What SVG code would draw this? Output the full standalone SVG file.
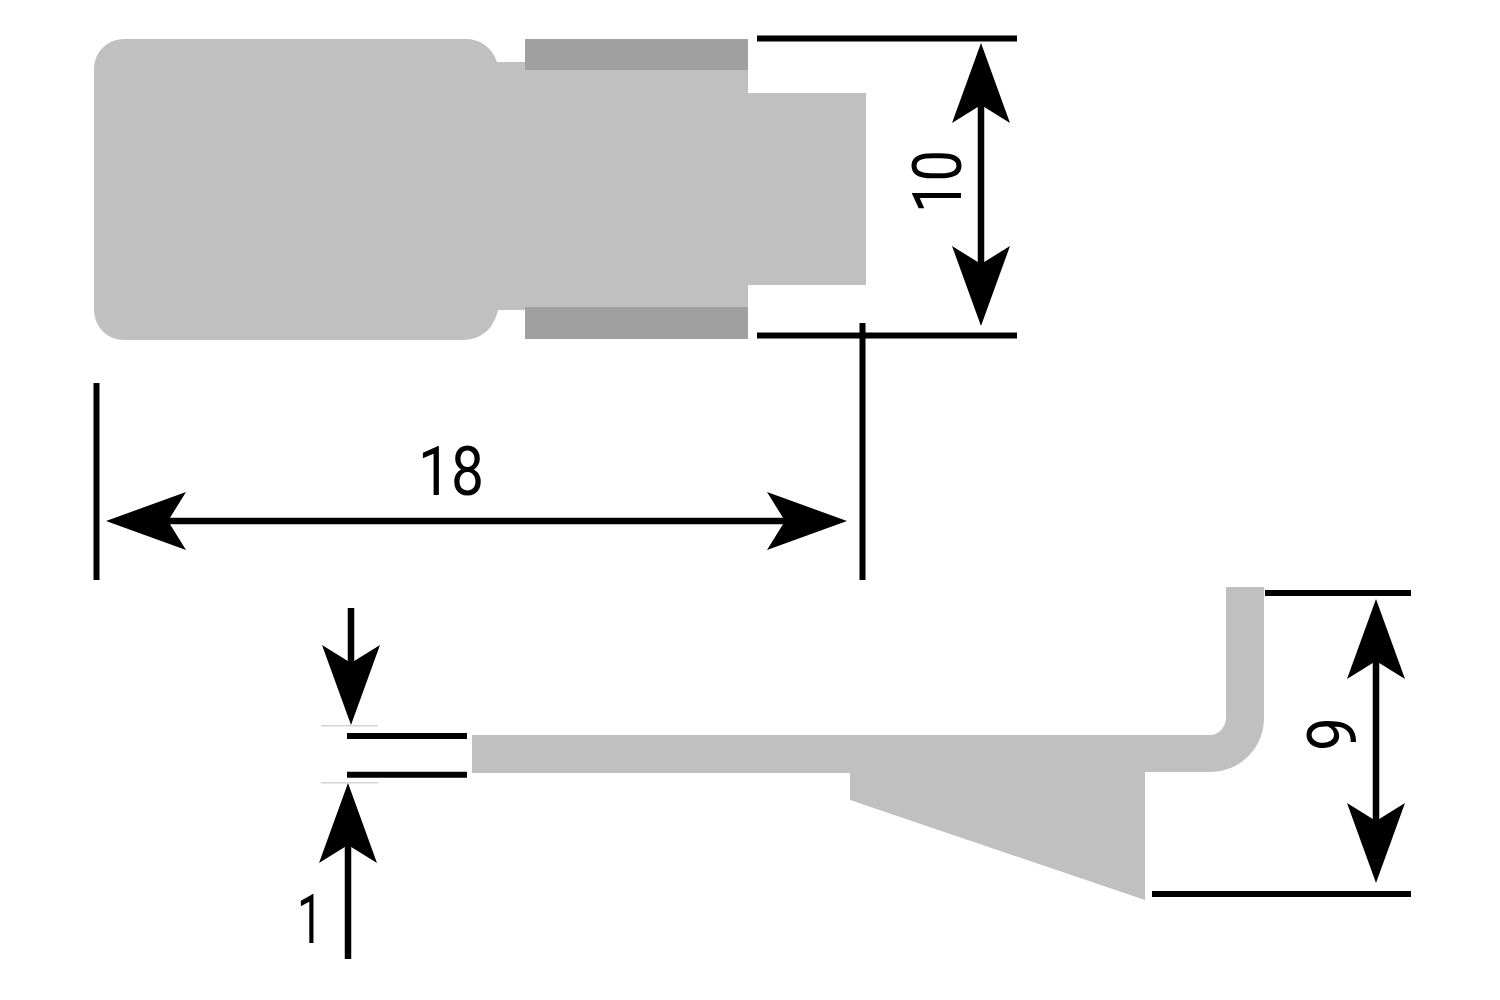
<svg xmlns="http://www.w3.org/2000/svg" width="1500" height="1000" viewBox="0 0 1500 1000">
<style>
.part{fill:#c0c0c0}
.dark{fill:#a0a0a0}
.dim{stroke:#000;stroke-width:6;fill:none}
.arr{stroke:#000;stroke-width:6.5;fill:none;marker-end:url(#head)}
.arr2{stroke:#000;stroke-width:6.5;fill:none;marker-start:url(#head);marker-end:url(#head)}
.thin{stroke:#d4d4d4;stroke-width:1.5;fill:none}
.lbl{font-family:"Roboto","Liberation Sans",sans-serif;font-size:69px;font-weight:400;fill:#000}
</style>
<defs>
<marker id="head" markerUnits="userSpaceOnUse" markerWidth="100" markerHeight="70" viewBox="-20 -35 100 70" refX="0" refY="0" orient="auto-start-reverse" overflow="visible">
<path d="M62,0 L-18,-29 L0,0 L-18,29Z" fill="#000"/>
</marker>
</defs>
<rect width="1500" height="1000" fill="#fff"/>
<g id="top-part">
<path class="part" d="M125,39 H465 C480,39 492,47 497,62 H525 V310 H498 C494,328 482,340 462,340 H125 C107,340 94,327 94,309 V70 C94,52 107,39 125,39Z"/>
<path class="part" d="M520,62 H748 V93 H866 V285 H748 V310 H520Z"/>
<rect class="dark" x="525" y="39" width="223" height="31"/>
<rect class="dark" x="525" y="307" width="223" height="32"/>
</g>
<g id="side-part">
<path class="part" d="M472,735 H1210 C1219,735 1226,727 1226,717 V587 H1264 V718 C1264,748 1240,772 1210,772 H1145 V900 L850,800 V773 H472Z"/>
</g>
<g id="connectors">
<line class="dim" x1="757" y1="38.5" x2="1017" y2="38.5"/>
<line class="dim" x1="757" y1="335.5" x2="1017" y2="335.5"/>
<line class="arr2" x1="981" y1="105" x2="981" y2="264"/>
<line class="dim" x1="96.5" y1="383" x2="96.5" y2="580"/>
<line class="dim" x1="862.5" y1="323" x2="862.5" y2="580"/>
<line class="arr2" x1="168" y1="521" x2="785" y2="521"/>
<line class="arr" x1="351" y1="608" x2="351" y2="663"/>
<line class="arr" x1="348" y1="959" x2="348" y2="845"/>
<line class="thin" x1="321" y1="725.7" x2="378" y2="725.7"/>
<line class="thin" x1="321" y1="782.7" x2="378" y2="782.7"/>
<line class="dim" x1="347" y1="736" x2="467" y2="736"/>
<line class="dim" x1="347" y1="774.7" x2="467" y2="774.7"/>
<line class="dim" x1="1265" y1="593" x2="1411" y2="593"/>
<line class="dim" x1="1152" y1="894" x2="1411" y2="894"/>
<line class="arr2" x1="1376" y1="661" x2="1376" y2="821"/>
</g>
<g id="labels">
<text class="lbl" x="418" y="495" textLength="66" lengthAdjust="spacingAndGlyphs">18</text>
<text class="lbl" transform="translate(961 213) rotate(-90)" textLength="63" lengthAdjust="spacingAndGlyphs">10</text>
<text class="lbl" transform="translate(1356 751) rotate(-90)" textLength="34" lengthAdjust="spacingAndGlyphs">9</text>
<text class="lbl" x="297" y="943" textLength="26" lengthAdjust="spacingAndGlyphs">1</text>
</g>
</svg>
